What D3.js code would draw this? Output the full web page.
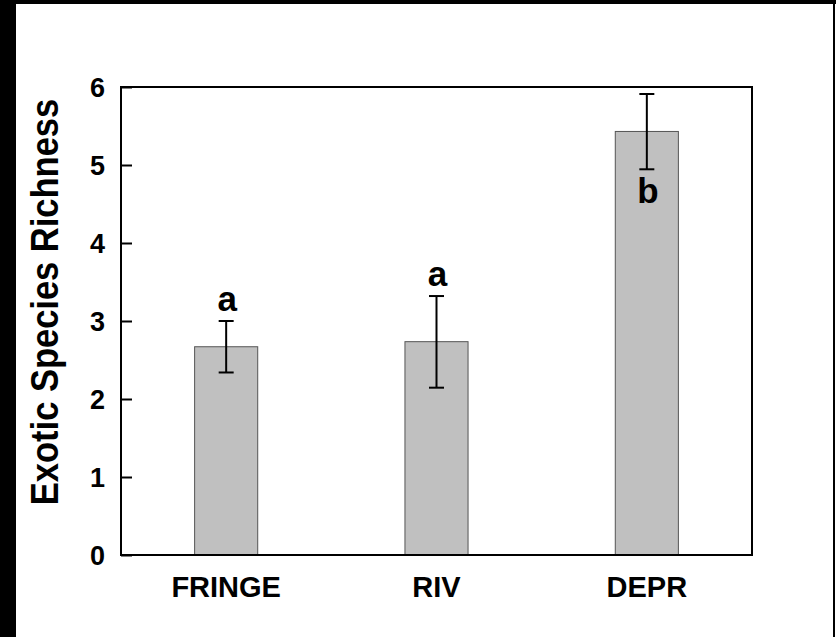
<!DOCTYPE html>
<html>
<head>
<meta charset="utf-8">
<script src="https://cdn.jsdelivr.net/npm/d3@7/dist/d3.min.js"></script>
<style>
  html, body { margin: 0; padding: 0; background: #000; }
  svg { display: block; }
  text { font-family: Arial, "Liberation Sans", sans-serif; font-weight: bold; fill: #000; }
</style>
</head>
<body>
<script>
const categories = ["FRINGE", "RIV", "DEPR"];
const means = [2.67, 2.735, 5.43];
const errUpper = [3.0, 3.32, 5.91];
const errLower = [2.34, 2.145, 4.945];
const sigLetters = ["a", "a", "b"];
const letterPlacement = ["above", "above", "below"];
const yTicks = [0, 1, 2, 3, 4, 5, 6];
const yTitle = "Exotic Species Richness";

const W = 836, H = 637;
const svg = d3.select("body").append("svg").attr("width", W).attr("height", H);

// white page with black frame on left/top/right
svg.append("rect").attr("x", 0).attr("y", 0).attr("width", W).attr("height", H).attr("fill", "#000");
svg.append("rect").attr("x", 16).attr("y", 4).attr("width", 817).attr("height", H).attr("fill", "#fff");
svg.append("rect").attr("x", 835).attr("y", 4).attr("width", 1).attr("height", H).attr("fill", "#fff");

const m = { left: 121, top: 87, right: 752, bottom: 555 };
const x = d3.scaleBand().domain(categories).range([m.left, m.right]).paddingInner(0.7).paddingOuter(0.35);
const y = d3.scaleLinear().domain([0, 6]).range([m.bottom, m.top]);

// bars
svg.append("g").selectAll("rect").data(categories).join("rect")
  .attr("x", d => x(d))
  .attr("y", (d, i) => y(means[i]))
  .attr("width", x.bandwidth())
  .attr("height", (d, i) => y(0) - y(means[i]))
  .attr("fill", "#c0c0c0")
  .attr("stroke", "#555")
  .attr("stroke-width", 1);

// error bars
const eb = svg.append("g").attr("stroke", "#000").attr("stroke-width", 2);
categories.forEach((c, i) => {
  const cx = x(c) + x.bandwidth() / 2;
  eb.append("line").attr("x1", cx).attr("x2", cx).attr("y1", y(errUpper[i])).attr("y2", y(errLower[i]));
  eb.append("line").attr("x1", cx - 7.5).attr("x2", cx + 7.5).attr("y1", y(errUpper[i])).attr("y2", y(errUpper[i]));
  eb.append("line").attr("x1", cx - 7.5).attr("x2", cx + 7.5).attr("y1", y(errLower[i])).attr("y2", y(errLower[i]));
});

// significance letters
svg.append("g").selectAll("text").data(categories).join("text")
  .attr("x", d => x(d) + x.bandwidth() / 2 + 1)
  .attr("y", (d, i) => letterPlacement[i] === "above" ? y(errUpper[i]) - 10 : y(errLower[i]) + 34)
  .attr("text-anchor", "middle")
  .attr("font-size", 35)
  .text((d, i) => sigLetters[i]);

// y axis (ticks inward)
const yAxis = d3.axisLeft(y).tickValues(yTicks).tickSize(-11).tickPadding(27).tickFormat(d3.format("d"));
const gy = svg.append("g").attr("transform", `translate(${m.left},0)`).call(yAxis);
gy.attr("font-size", null).attr("font-family", null);
gy.select(".domain").remove();
gy.selectAll(".tick line").attr("stroke", "#000").attr("stroke-width", 2);
gy.selectAll(".tick text").style("font-size", "27px").attr("dy", "0.36em").attr("x", -16);

// x axis labels
const xAxis = d3.axisBottom(x).tickSize(0).tickPadding(21);
const gx = svg.append("g").attr("transform", `translate(0,${m.bottom})`).call(xAxis);
gx.attr("font-size", null).attr("font-family", null);
gx.select(".domain").remove();
gx.selectAll(".tick text").style("font-size", "29px").attr("dy", "0.71em");

// frame
svg.append("rect").attr("x", m.left).attr("y", m.top)
  .attr("width", m.right - m.left).attr("height", m.bottom - m.top)
  .attr("fill", "none").attr("stroke", "#000").attr("stroke-width", 2);

// y title
svg.append("text")
  .attr("transform", "translate(58,302) rotate(-90) scale(1,1.1)")
  .attr("text-anchor", "middle")
  .attr("font-size", 34.5)
  .text(yTitle);
</script>
</body>
</html>
